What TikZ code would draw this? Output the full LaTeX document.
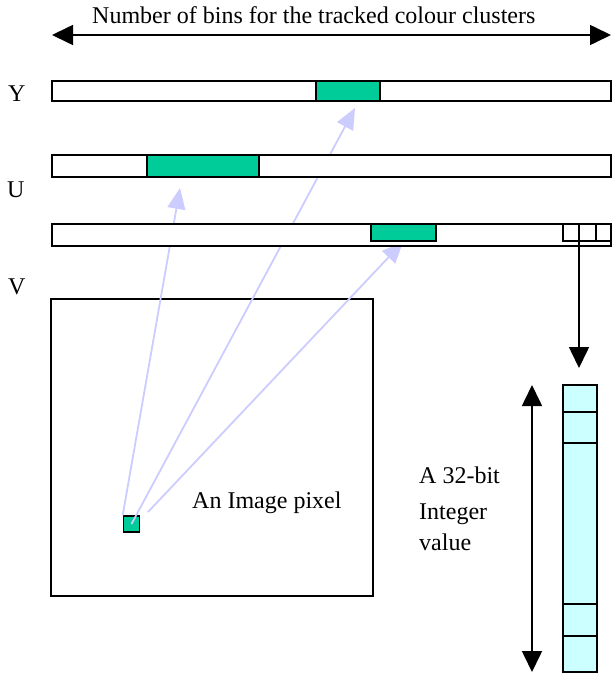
\documentclass[tikz,border=0pt]{standalone}
\usepackage{fontspec}
\setmainfont{Liberation Serif}
\usetikzlibrary{arrows.meta}
\definecolor{binfill}{RGB}{0,204,153}
\definecolor{wordfill}{RGB}{204,255,255}
\definecolor{raycol}{RGB}{204,204,255}
\begin{document}
\begin{tikzpicture}[x=1pt,y=-1pt,
  lbl/.style={inner sep=0pt, anchor=base west, font=\fontsize{24}{28}\selectfont},
  bar/.style={draw=black, line width=1.6pt, fill=white},
  hit/.style={draw=black, line width=1.6pt, fill=binfill},
  word/.style={draw=black, line width=1.6pt, fill=wordfill},
  blackarrow/.style={line width=1.6pt, -{Triangle[length=21pt,width=20pt]}},
  blackboth/.style={line width=1.6pt, {Triangle[length=21pt,width=20pt]}-{Triangle[length=21pt,width=20pt]}},
  rayarrow/.style={draw=raycol, line width=1.8pt, -{Triangle[length=21pt,width=18pt]}},
  pixel/.style={draw=black, line width=1.6pt, fill=binfill, minimum size=16pt, inner sep=0pt}]
\useasboundingbox (0,0) rectangle (612,677);

% title and range of the bins
\node[lbl] (title) at (92,24) {Number of bins for the tracked colour clusters};
\coordinate (rangeL) at (52,35);
\coordinate (rangeR) at (611,35);
\draw[blackboth] (rangeL) -- (rangeR);

% channel labels
\node[lbl] (labY) at (8,101) {Y};
\node[lbl] (labU) at (7,197) {U};
\node[lbl] (labV) at (8,294) {V};

% image with one pixel
\draw[line width=2pt] (51,299) rectangle (373,596);
\node[pixel] (pix) at (131.5,524) {};
\node[lbl] (pixtxt) at (192,508) {An Image pixel};

% rays from the pixel to the histogram bins
\coordinate (startV) at (148,512);
\coordinate (tipY) at (355,108);
\coordinate (tipU) at (180,188);
\coordinate (tipV) at (403,242);
\draw[rayarrow] (pix.north west) -- (tipU);
\draw[rayarrow] (pix.center) -- (tipY);
\draw[rayarrow] (startV) -- (tipV);

% Y histogram
\draw[bar] (52,81) rectangle (611,101);
\draw[hit] (316,81) rectangle (380,101);
% U histogram
\draw[bar] (52,155) rectangle (611,177);
\draw[hit] (147,155) rectangle (259,177);
% V histogram
\draw[bar] (52,224) rectangle (611,246);
\draw[hit] (371,224) rectangle (436,241);
\draw[line width=1.6pt] (563,224) rectangle (579,241);
\draw[line width=1.6pt] (579,224) rectangle (596,241);
\draw[line width=1.6pt] (596,224) rectangle (611,241);

% one bin expanded into a 32-bit word
\coordinate (binout) at (579,241);
\coordinate (wordtop) at (579,368);
\draw[blackarrow] (binout) -- (wordtop);

\draw[word] (563,385) rectangle (597,672);
\foreach \yy in {412,443,604,636}
  \draw[line width=1.6pt] (563,\yy) -- (597,\yy);

\coordinate (spanT) at (532,385);
\coordinate (spanB) at (532,672);
\draw[blackboth] (spanT) -- (spanB);

\node[lbl] (w1) at (419,483) {A 32-bit};
\node[lbl] (w2) at (419,519) {Integer};
\node[lbl] (w3) at (419,550) {value};
\end{tikzpicture}
\end{document}
